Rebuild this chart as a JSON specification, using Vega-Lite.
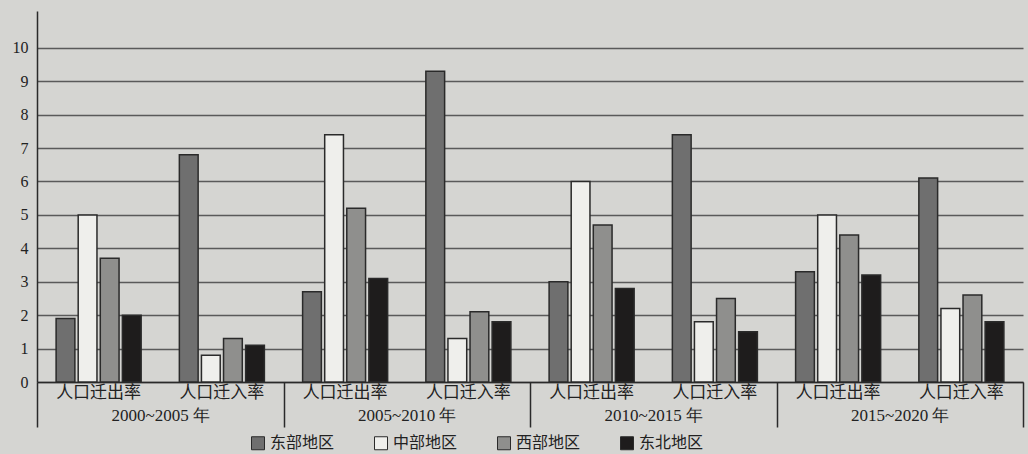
{
  "$schema": "https://vega.github.io/schema/vega-lite/v6.json",
  "width": 986,
  "height": 371,
  "autosize": {"type": "none"},
  "padding": {"left": 37, "top": 11, "right": 5, "bottom": 72},
  "background": "#d5d5d2",
  "config": {"view": {"stroke": null}, "font": "Liberation Serif"},
  "data": {
    "values": [
      {"period": "2000~2005 年", "cat": "人口迁出率", "region": "东部地区", "value": 1.9},
      {"period": "2000~2005 年", "cat": "人口迁出率", "region": "中部地区", "value": 5.0},
      {"period": "2000~2005 年", "cat": "人口迁出率", "region": "西部地区", "value": 3.7},
      {"period": "2000~2005 年", "cat": "人口迁出率", "region": "东北地区", "value": 2.0},
      {"period": "2000~2005 年", "cat": "人口迁入率", "region": "东部地区", "value": 6.8},
      {"period": "2000~2005 年", "cat": "人口迁入率", "region": "中部地区", "value": 0.8},
      {"period": "2000~2005 年", "cat": "人口迁入率", "region": "西部地区", "value": 1.3},
      {"period": "2000~2005 年", "cat": "人口迁入率", "region": "东北地区", "value": 1.1},
      {"period": "2005~2010 年", "cat": "人口迁出率", "region": "东部地区", "value": 2.7},
      {"period": "2005~2010 年", "cat": "人口迁出率", "region": "中部地区", "value": 7.4},
      {"period": "2005~2010 年", "cat": "人口迁出率", "region": "西部地区", "value": 5.2},
      {"period": "2005~2010 年", "cat": "人口迁出率", "region": "东北地区", "value": 3.1},
      {"period": "2005~2010 年", "cat": "人口迁入率", "region": "东部地区", "value": 9.3},
      {"period": "2005~2010 年", "cat": "人口迁入率", "region": "中部地区", "value": 1.3},
      {"period": "2005~2010 年", "cat": "人口迁入率", "region": "西部地区", "value": 2.1},
      {"period": "2005~2010 年", "cat": "人口迁入率", "region": "东北地区", "value": 1.8},
      {"period": "2010~2015 年", "cat": "人口迁出率", "region": "东部地区", "value": 3.0},
      {"period": "2010~2015 年", "cat": "人口迁出率", "region": "中部地区", "value": 6.0},
      {"period": "2010~2015 年", "cat": "人口迁出率", "region": "西部地区", "value": 4.7},
      {"period": "2010~2015 年", "cat": "人口迁出率", "region": "东北地区", "value": 2.8},
      {"period": "2010~2015 年", "cat": "人口迁入率", "region": "东部地区", "value": 7.4},
      {"period": "2010~2015 年", "cat": "人口迁入率", "region": "中部地区", "value": 1.8},
      {"period": "2010~2015 年", "cat": "人口迁入率", "region": "西部地区", "value": 2.5},
      {"period": "2010~2015 年", "cat": "人口迁入率", "region": "东北地区", "value": 1.5},
      {"period": "2015~2020 年", "cat": "人口迁出率", "region": "东部地区", "value": 3.3},
      {"period": "2015~2020 年", "cat": "人口迁出率", "region": "中部地区", "value": 5.0},
      {"period": "2015~2020 年", "cat": "人口迁出率", "region": "西部地区", "value": 4.4},
      {"period": "2015~2020 年", "cat": "人口迁出率", "region": "东北地区", "value": 3.2},
      {"period": "2015~2020 年", "cat": "人口迁入率", "region": "东部地区", "value": 6.1},
      {"period": "2015~2020 年", "cat": "人口迁入率", "region": "中部地区", "value": 2.2},
      {"period": "2015~2020 年", "cat": "人口迁入率", "region": "西部地区", "value": 2.6},
      {"period": "2015~2020 年", "cat": "人口迁入率", "region": "东北地区", "value": 1.8}
    ]
  },
  "transform": [{"calculate": "datum.period + '|' + datum.cat", "as": "grp"}],
  "layer": [
    {
      "mark": {"type": "bar", "stroke": "#2a2a2a", "strokeWidth": 1.5},
      "encoding": {
        "x": {
          "field": "grp", "type": "nominal", "sort": null,
          "scale": {"paddingInner": 0.31, "paddingOuter": 0.155},
          "axis": {
            "title": null, "orient": "bottom",
            "labelExpr": "split(datum.value, '|')[1]",
            "ticks": false, "domain": true, "domainColor": "#2a2a2a", "domainWidth": 1.5,
            "labelFont": "Noto Sans CJK SC", "labelFontSize": 17, "labelColor": "#222",
            "labelPadding": 2, "labelAngle": 0
          }
        },
        "xOffset": {
          "field": "region", "type": "nominal",
          "scale": {"domain": ["东部地区", "中部地区", "西部地区", "东北地区"], "paddingInner": 0.15, "paddingOuter": 0}
        },
        "y": {
          "field": "value", "type": "quantitative",
          "scale": {"domain": [0, 11.1], "nice": false},
          "axis": {
            "title": null, "values": [0, 1, 2, 3, 4, 5, 6, 7, 8, 9, 10], "labelOverlap": false,
            "grid": true, "gridColor": "#5a5a5a", "gridWidth": 1.5,
            "ticks": false, "domain": true, "domainColor": "#2a2a2a", "domainWidth": 1.5,
            "labelFont": "Liberation Serif", "labelFontSize": 16, "labelColor": "#222", "labelPadding": 9
          }
        },
        "fill": {
          "field": "region", "type": "nominal",
          "scale": {"domain": ["东部地区", "中部地区", "西部地区", "东北地区"], "range": ["#6f6f6f", "#efefec", "#8f8f8d", "#1e1c1c"]},
          "legend": {
            "title": null, "orient": "none", "legendX": 213, "legendY": 424,
            "direction": "horizontal", "symbolType": "square", "symbolSize": 169,
            "symbolStrokeColor": "#2a2a2a", "symbolStrokeWidth": 1, "symbolOpacity": 1,
            "labelFont": "Noto Sans CJK SC", "labelFontSize": 16, "labelColor": "#222",
            "columnPadding": 37
          }
        }
      }
    },
    {
      "mark": {"type": "bar", "opacity": 0},
      "encoding": {
        "x": {
          "field": "period", "type": "nominal", "sort": null,
          "scale": {"paddingInner": 0, "paddingOuter": 0},
          "axis": {
            "title": null, "orient": "bottom", "domain": false,
            "ticks": true, "tickBand": "extent", "tickSize": 45, "tickColor": "#2a2a2a", "tickWidth": 1.5,
            "labelPadding": -20, "labelFont": "Liberation Serif", "labelFontSize": 17, "labelColor": "#222", "labelAngle": 0
          }
        },
        "y": {
          "field": "value", "type": "quantitative", "stack": null,
          "scale": {"domain": [0, 11.1], "nice": false},
          "axis": {
            "title": null, "values": [0, 1, 2, 3, 4, 5, 6, 7, 8, 9, 10], "labelOverlap": false,
            "grid": true, "gridColor": "#5a5a5a", "gridWidth": 1.5,
            "ticks": false, "domain": true, "domainColor": "#2a2a2a", "domainWidth": 1.5,
            "labelFont": "Liberation Serif", "labelFontSize": 16, "labelColor": "#222", "labelPadding": 9
          }
        }
      }
    }
  ],
  "resolve": {"scale": {"x": "independent"}, "axis": {"x": "independent"}}
}
